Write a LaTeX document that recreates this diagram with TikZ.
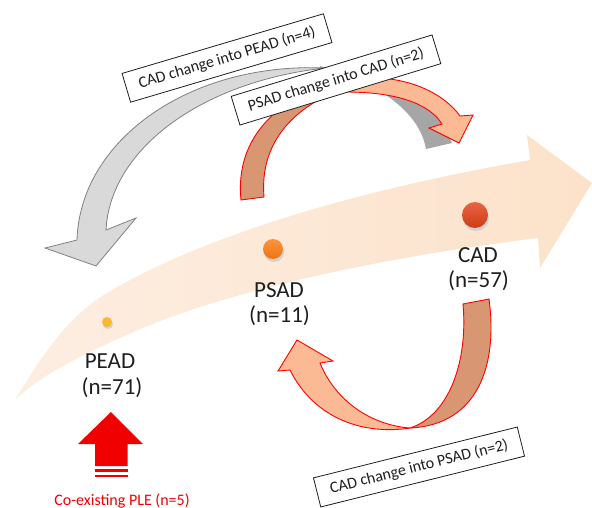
\documentclass[tikz,border=0pt]{standalone}
\usepackage{fontspec}
\setmainfont{Carlito}
\definecolor{peachA}{RGB}{253,238,226}
\definecolor{peachB}{RGB}{252,226,202}
\definecolor{peadcol}{RGB}{247,185,50}
\definecolor{psadtop}{RGB}{252,150,60}
\definecolor{psadbot}{RGB}{238,115,20}
\definecolor{cadtop}{RGB}{232,100,70}
\definecolor{cadbot}{RGB}{205,60,20}
\definecolor{graylight}{RGB}{217,217,217}
\definecolor{graystroke}{RGB}{128,128,128}
\definecolor{graydark}{RGB}{166,166,166}
\definecolor{orgdark}{RGB}{216,150,114}
\definecolor{orglight}{RGB}{251,186,148}
\definecolor{plered}{RGB}{240,0,0}
\definecolor{inkcol}{RGB}{30,30,30}
\begin{document}
\begin{tikzpicture}[x=1pt,y=-1pt,
  lbl/.style={font=\fontsize{23}{28}\selectfont, text=inkcol, anchor=base, inner sep=0},
  tbox/.style={draw=inkcol, line width=0.8pt, fill=white, font=\fontsize{16}{19}\selectfont, minimum width=210pt, minimum height=30pt, inner sep=0, text=inkcol},
  ribbonedge/.style={draw=red, line width=0.9pt, line join=miter},
  dot/.style={circle, inner sep=0},
]
\useasboundingbox (0,0) rectangle (592,508);

% big background arrow
\shade[left color=peachA, right color=peachB]
  (15,400) .. controls (45,350) and (70,315) .. (107,293)
  .. controls (170,255) and (300,200) .. (530,160)
  -- (527,135) -- (592,183) -- (540,268) -- (538,238)
  .. controls (400,255) and (250,285) .. (150,325)
  .. controls (90,350) and (40,375) .. (15,400) -- cycle;

% dots
\fill[black!18] (108,324) circle (5);
\node[dot, fill=peadcol, minimum size=10pt] (peaddot) at (107,322) {};
\fill[black!18] (274,252) circle (10);
\node[dot, top color=psadtop, bottom color=psadbot, minimum size=20pt] (psaddot) at (273,249) {};
\fill[black!18] (476,218) circle (13);
\node[dot, top color=cadtop, bottom color=cadbot, minimum size=26pt] (caddot) at (475,215) {};

% labels
\node[lbl] (peadname) at (110,368) {PEAD};
\node[lbl] (peadn) at (112,394) {(n=71)};
\node[lbl] (psadname) at (279,297) {PSAD};
\node[lbl] (psadn) at (279.5,322) {(n=11)};
\node[lbl] (cadname) at (478,262) {CAD};
\node[lbl] (cadn) at (478.5,287) {(n=57)};

% gray ribbon, back part
\fill[graydark] (320,68) .. controls (390,68) and (435,100) .. (452,143)
  -- (426,149) .. controls (420,115) and (385,85) .. (320,66) -- cycle;
% gray ribbon, front part with head
\draw[fill=graylight, draw=graystroke, line width=0.8pt, line join=miter]
  (325,68) .. controls (190,62) and (80,140) .. (77,240)
  -- (45,248) -- (96,266) -- (136,218) -- (106,230)
  .. controls (110,150) and (200,82) .. (325,68) -- cycle;

% PSAD -> CAD ribbon
\draw[ribbonedge, fill=orgdark] (241,200) .. controls (236,150) and (262,110) .. (320,86)
  -- (330,94) .. controls (285,115) and (260,150) .. (264,197) -- cycle;
\draw[ribbonedge, fill=orglight] (360,78) .. controls (410,75) and (445,95) .. (460,116)
  -- (473,115) -- (459,143) -- (429,128) -- (442,124)
  .. controls (430,105) and (400,92) .. (345,92) -- cycle;

% upper boxes
\node[tbox, rotate=16.5] (b1) at (227,58) {CAD change into PEAD (n=4)};
\node[tbox, rotate=17] (b2) at (336,80) {PSAD change into CAD (n=2)};

% CAD -> PSAD ribbon
\draw[ribbonedge, fill=orgdark] (463,304) -- (489,299)
  .. controls (498,365) and (478,425) .. (410,428)
  .. controls (450,415) and (468,360) .. (463,304) -- cycle;
\draw[ribbonedge, fill=orglight] (297,340) -- (333,361) -- (320,363)
  .. controls (335,400) and (370,425) .. (410,428)
  .. controls (365,435) and (315,420) .. (290,370) -- (278,371) -- cycle;

\node[tbox, rotate=14] (b3) at (419,467) {CAD change into PSAD (n=2)};

% co-existing PLE arrow
\fill[plered] (111,412) -- (143,444) -- (127.5,444) -- (127.5,466) -- (95,466)
  -- (95,444) -- (78,444) -- cycle;
\fill[plered] (95,469) rectangle (127.5,472);
\fill[plered] (95,474.5) rectangle (127.5,477);
\node[font=\fontsize{16}{19}\selectfont, text=plered, inner sep=0, anchor=base] (ple) at (122,505) {Co-existing PLE (n=5)};
\end{tikzpicture}
\end{document}
